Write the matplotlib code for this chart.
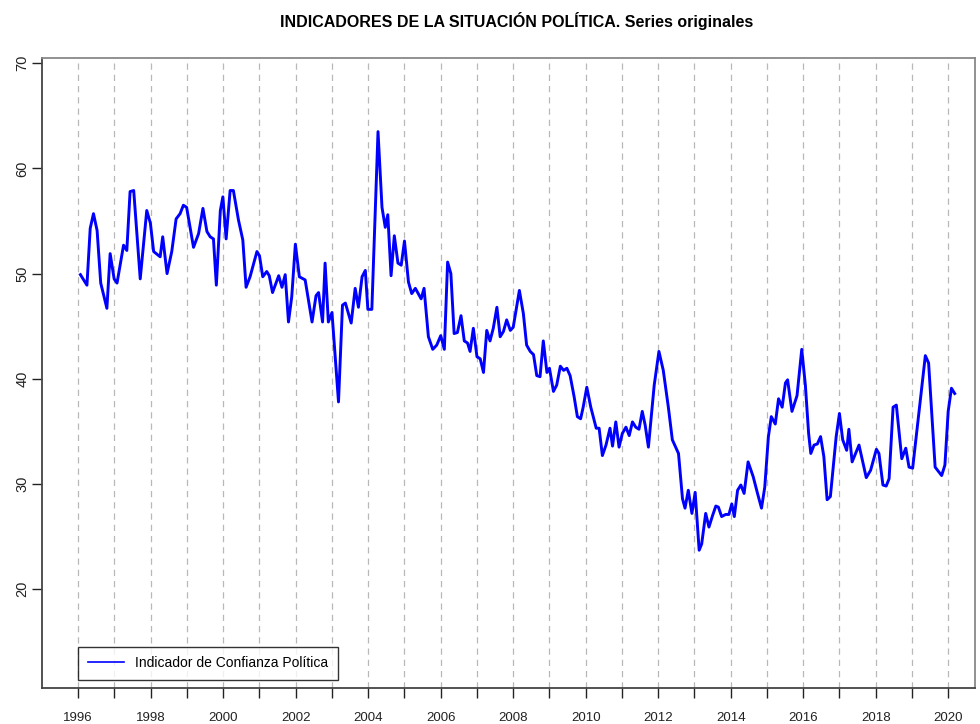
import matplotlib
matplotlib.use("Agg")
import matplotlib.pyplot as plt

plt.rcParams['font.family'] = ['Liberation Sans', 'DejaVu Sans']

title = "INDICADORES DE LA SITUACIÓN POLÍTICA. Series originales"
series_name = "Indicador de Confianza Política"

years = [
    1996.06, 1996.24, 1996.33, 1996.42, 1996.52, 1996.62, 1996.79, 1996.88, 1996.99,
    1997.07, 1997.25, 1997.34, 1997.43, 1997.53, 1997.71, 1997.89, 1997.99,
    1998.08, 1998.26, 1998.33, 1998.45, 1998.58, 1998.70, 1998.81, 1998.90, 1998.99,
    1999.18, 1999.32, 1999.44, 1999.55, 1999.64, 1999.73, 1999.81, 1999.92, 1999.99,
    2000.08, 2000.19, 2000.28, 2000.42, 2000.54, 2000.63, 2000.74, 2000.93,
    2001.00, 2001.09, 2001.20, 2001.27, 2001.36, 2001.53, 2001.62, 2001.71, 2001.80, 2001.89, 2001.99,
    2002.10, 2002.26, 2002.45, 2002.56, 2002.63, 2002.74, 2002.81, 2002.90,
    2003.00, 2003.18, 2003.29, 2003.37, 2003.53, 2003.64, 2003.73, 2003.83, 2003.92, 2003.99,
    2004.10, 2004.27, 2004.38, 2004.47, 2004.54, 2004.63, 2004.72, 2004.82, 2004.91,
    2005.00, 2005.11, 2005.20, 2005.30, 2005.46, 2005.54, 2005.66, 2005.78, 2005.89,
    2006.00, 2006.10, 2006.19, 2006.28, 2006.37, 2006.46, 2006.56, 2006.65, 2006.74, 2006.81, 2006.90,
    2007.00, 2007.09, 2007.18, 2007.27, 2007.36, 2007.45, 2007.55, 2007.64, 2007.73, 2007.82, 2007.92,
    2008.00, 2008.17, 2008.28, 2008.37, 2008.47, 2008.56, 2008.65, 2008.74, 2008.83, 2008.93,
    2009.00, 2009.11, 2009.20, 2009.30, 2009.39, 2009.48, 2009.57, 2009.68, 2009.77, 2009.86, 2009.93,
    2010.03, 2010.14, 2010.29, 2010.37, 2010.46, 2010.56, 2010.67, 2010.74, 2010.83, 2010.92,
    2011.01, 2011.11, 2011.20, 2011.29, 2011.38, 2011.47, 2011.56, 2011.64, 2011.73, 2011.89,
    2012.02, 2012.14, 2012.28, 2012.39, 2012.47, 2012.56, 2012.67, 2012.74, 2012.83, 2012.93,
    2013.02, 2013.13, 2013.20, 2013.31, 2013.40, 2013.50, 2013.59, 2013.66, 2013.75, 2013.86, 2013.95,
    2014.03, 2014.10, 2014.19, 2014.28, 2014.37, 2014.48, 2014.62, 2014.74, 2014.85, 2014.94,
    2015.04, 2015.12, 2015.23, 2015.32, 2015.42, 2015.51, 2015.57, 2015.69, 2015.83, 2015.96,
    2016.06, 2016.15, 2016.21, 2016.30, 2016.39, 2016.48, 2016.57, 2016.66, 2016.75, 2016.91,
    2017.00, 2017.09, 2017.20, 2017.26, 2017.35, 2017.54, 2017.74, 2017.86,
    2018.02, 2018.09, 2018.20, 2018.29, 2018.37, 2018.48, 2018.57, 2018.72, 2018.83, 2018.92,
    2019.02, 2019.37, 2019.46, 2019.64, 2019.82, 2019.91,
    2020.00, 2020.09, 2020.18,
]

values = [
    49.9, 48.9, 54.3, 55.7, 54.1, 49.1, 46.7, 51.9, 49.5,
    49.1, 52.7, 52.2, 57.8, 57.9, 49.5, 56.0, 54.8,
    52.1, 51.6, 53.5, 50.0, 52.1, 55.2, 55.7, 56.5, 56.3,
    52.5, 53.8, 56.2, 54.0, 53.5, 53.3, 48.9, 56.0, 57.3,
    53.3, 57.9, 57.9, 55.1, 53.2, 48.7, 49.7, 52.1,
    51.7, 49.7, 50.2, 49.8, 48.2, 49.8, 48.7, 49.9, 45.4, 47.8, 52.8,
    49.7, 49.4, 45.4, 47.9, 48.2, 45.4, 51.0, 45.4,
    46.3, 37.8, 47.0, 47.2, 45.3, 48.6, 46.8, 49.7, 50.3, 46.6,
    46.6, 63.5, 56.3, 54.4, 55.6, 49.8, 53.6, 51.0, 50.8,
    53.1, 49.2, 48.1, 48.6, 47.6, 48.6, 44.0, 42.8, 43.2,
    44.1, 42.8, 51.1, 50.0, 44.3, 44.4, 46.0, 43.6, 43.4, 42.6, 44.8,
    42.1, 41.9, 40.6, 44.6, 43.6, 44.8, 46.8, 44.0, 44.5, 45.6, 44.6,
    44.9, 48.4, 46.2, 43.2, 42.6, 42.3, 40.3, 40.2, 43.6, 40.6,
    41.0, 38.8, 39.4, 41.2, 40.8, 41.0, 40.3, 38.3, 36.4, 36.2, 37.3,
    39.2, 37.3, 35.3, 35.3, 32.7, 33.7, 35.3, 33.6, 35.9, 33.5,
    34.8, 35.4, 34.6, 35.9, 35.4, 35.2, 36.9, 35.6, 33.5, 39.4,
    42.6, 40.8, 37.3, 34.2, 33.6, 32.9, 28.6, 27.7, 29.4, 27.2,
    29.2, 23.7, 24.3, 27.2, 25.9, 27.0, 27.9, 27.8, 26.9, 27.1, 27.1,
    28.1, 26.9, 29.4, 29.9, 29.1, 32.1, 30.7, 29.1, 27.7, 29.7,
    34.5, 36.4, 35.7, 38.1, 37.3, 39.6, 39.9, 36.9, 38.4, 42.8,
    39.4, 34.8, 32.9, 33.7, 33.8, 34.5, 32.6, 28.5, 28.8, 34.5,
    36.7, 34.2, 33.2, 35.2, 32.1, 33.7, 30.6, 31.3,
    33.3, 32.9, 29.9, 29.8, 30.5, 37.3, 37.5, 32.4, 33.4, 31.6,
    31.5, 42.2, 41.5, 31.6, 30.8, 31.8,
    36.9, 39.1, 38.6,
]

grid_years = list(range(1996, 2021))
label_years = list(range(1996, 2021, 2))
y_ticks = [20, 30, 40, 50, 60, 70]

fig = plt.figure(figsize=(9.8, 7.24), dpi=100)
ax = fig.add_axes([42/980, 1 - 688/724, (975 - 42)/980, (688 - 58)/724])

for gy in grid_years:
    ax.axvline(gy, color='#b8b8b8', linestyle=(0, (5, 4)), linewidth=0.9, zorder=1)

ax.plot(years, values, color='#0000ff', linewidth=2.1, label=series_name, zorder=3)

ax.set_xlim(1995.0, 2020.74)
ax.set_ylim(10.6, 70.5)

ax.set_xticks(grid_years)
ax.set_xticklabels([str(y) if y in label_years else '' for y in grid_years])
ax.set_yticks(y_ticks)
ax.set_yticklabels([str(v) for v in y_ticks], rotation=90, va='center')

ax.tick_params(axis='x', length=7, width=1, pad=10, labelsize=9.5, colors='#222222')
ax.tick_params(axis='y', length=7, width=1, pad=2, labelsize=10.5, colors='#222222')

for name, sp in ax.spines.items():
    sp.set_color('#444444')
    sp.set_linewidth(1.3)
ax.spines['top'].set_color('#888888')
ax.spines['right'].set_color('#888888')

leg = ax.legend(loc='lower left', bbox_to_anchor=((78 - 42)/933, (688 - 680)/630),
                borderaxespad=0, fancybox=False, frameon=True, fontsize=10,
                handlelength=2.6, borderpad=0.7, handletextpad=0.8)
leg.get_frame().set_edgecolor('black')
leg.get_frame().set_linewidth(1.0)
for line in leg.get_lines():
    line.set_linewidth(1.2)

fig.text(517/980, 1 - 21/724, title, ha='center', va='center', fontsize=11.5, fontweight='bold')

fig.savefig('out.png', dpi=100)
